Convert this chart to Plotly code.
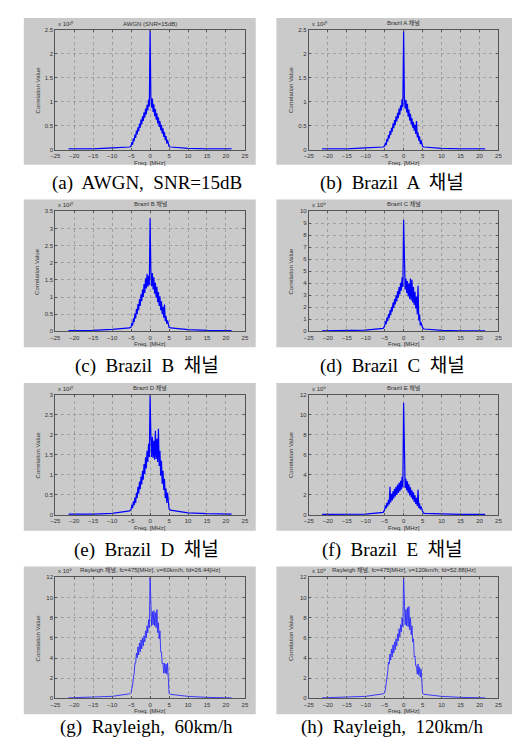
import plotly.graph_objects as go

# ---------------- data ----------------
FREQ_MHZ = [-21.5, -15, -10, -5.4,
            -5.0, -4.8, -4.6, -4.4, -4.2, -4.0, -3.8, -3.6, -3.4, -3.2, -3.0, -2.8, -2.6,
            -2.4, -2.2, -2.0, -1.8, -1.6, -1.4, -1.2, -1.0, -0.8, -0.6, -0.4, -0.2, 0.0,
            0.2, 0.4, 0.6, 0.8, 1.0, 1.2, 1.4, 1.6, 1.8, 2.0, 2.2, 2.4, 2.6, 2.8, 3.0,
            3.2, 3.4, 3.6, 3.8, 4.0, 4.2, 4.4, 4.6, 4.8, 5.0,
            5.4, 10, 15, 21.5]

AWGN_15DB = [0.02, 0.02, 0.04, 0.06,
             0.08, 0.16, 0.11, 0.24, 0.18, 0.32, 0.25, 0.40, 0.32, 0.47, 0.39, 0.55, 0.46,
             0.63, 0.53, 0.70, 0.60, 0.78, 0.67, 0.86, 0.74, 0.94, 0.82, 1.05, 0.90, 2.50,
             1.12, 0.88, 1.07, 0.79, 0.95, 0.70, 0.85, 0.63, 0.76, 0.55, 0.68, 0.48, 0.60, 0.41, 0.52,
             0.34, 0.45, 0.27, 0.37, 0.20, 0.29, 0.13, 0.21, 0.08, 0.07,
             0.06, 0.03, 0.02, 0.02]

BRAZIL_A = [0.02, 0.02, 0.04, 0.06,
            0.08, 0.15, 0.10, 0.23, 0.17, 0.31, 0.24, 0.39, 0.31, 0.46, 0.38, 0.55, 0.45,
            0.62, 0.52, 0.70, 0.59, 0.77, 0.66, 0.86, 0.73, 0.93, 0.82, 1.06, 0.89, 2.50,
            1.10, 0.86, 1.04, 0.78, 0.96, 0.69, 0.84, 0.61, 0.75, 0.53, 0.66, 0.46, 0.58, 0.40, 0.52,
            0.33, 0.60, 0.26, 0.36, 0.19, 0.28, 0.12, 0.20, 0.08, 0.07,
            0.06, 0.03, 0.02, 0.02]

BRAZIL_B = [0.02, 0.03, 0.06, 0.10,
            0.13, 0.25, 0.17, 0.38, 0.27, 0.52, 0.38, 0.66, 0.50, 0.80, 0.62, 0.94, 0.74,
            1.08, 0.88, 1.22, 1.00, 1.38, 1.12, 1.55, 1.25, 1.68, 1.30, 1.62, 1.35, 3.30,
            1.78, 1.32, 1.70, 1.22, 1.58, 1.10, 1.42, 0.98, 1.30, 0.85, 1.15, 0.74, 1.02, 0.62, 0.88,
            0.50, 0.72, 0.40, 0.78, 0.30, 0.45, 0.22, 0.32, 0.15, 0.12,
            0.10, 0.05, 0.03, 0.02]

BRAZIL_C = [0.05, 0.05, 0.10, 0.25,
            0.45, 0.85, 0.60, 1.15, 0.85, 1.45, 1.10, 1.75, 1.35, 2.05, 1.65, 2.40, 1.95,
            2.70, 2.25, 3.00, 2.50, 3.35, 2.80, 3.70, 3.10, 4.05, 3.40, 4.50, 3.70, 9.30,
            4.70, 3.50, 4.40, 3.20, 4.20, 2.90, 4.00, 2.70, 4.40, 2.60, 4.30, 2.40, 3.70, 2.20, 3.30,
            1.90, 2.90, 1.40, 3.80, 0.90, 1.40, 0.50, 0.75, 0.35, 0.30,
            0.20, 0.08, 0.05, 0.05]

BRAZIL_D = [0.02, 0.02, 0.04, 0.10,
            0.14, 0.25, 0.17, 0.34, 0.24, 0.43, 0.30, 0.56, 0.42, 0.70, 0.53, 0.83, 0.64,
            0.96, 0.76, 1.10, 0.88, 1.27, 1.02, 1.44, 1.16, 1.60, 1.32, 1.78, 1.45, 3.00,
            2.00, 1.45, 1.95, 1.42, 1.85, 1.38, 2.10, 1.40, 1.90, 1.32, 2.15, 1.22, 1.60, 0.98, 1.35,
            0.78, 1.10, 0.62, 0.90, 0.42, 0.66, 0.30, 0.55, 0.20, 0.15,
            0.12, 0.05, 0.03, 0.02]

BRAZIL_E = [0.05, 0.05, 0.08, 0.25,
            0.50, 0.95, 0.65, 1.20, 0.85, 1.50, 1.05, 2.80, 1.25, 2.10, 1.45, 2.35, 1.65,
            2.60, 1.85, 2.80, 2.00, 3.00, 2.20, 3.20, 2.35, 3.40, 2.55, 3.80, 2.75, 11.20,
            4.30, 2.70, 3.60, 2.45, 3.35, 2.20, 3.05, 1.95, 2.75, 1.75, 2.45, 1.55, 2.25, 1.30, 1.95,
            1.10, 1.70, 0.90, 2.50, 0.70, 1.15, 0.55, 0.85, 0.40, 0.35,
            0.15, 0.08, 0.05, 0.05]

RAYLEIGH_60 = [0.05, 0.10, 0.20, 0.45,
               0.60, 1.00, 1.30, 2.10, 2.40, 3.50, 3.50, 4.50, 4.00, 5.10, 4.30, 5.50, 4.60,
               5.80, 4.90, 6.00, 5.20, 6.20, 5.60, 6.70, 6.00, 7.20, 6.50, 7.80, 7.00, 12.00,
               10.00, 7.20, 8.60, 7.30, 8.70, 7.20, 8.50, 7.00, 8.80, 6.50, 7.50, 5.90, 6.70, 4.60, 4.60,
               3.40, 3.50, 2.50, 3.50, 2.50, 3.40, 2.40, 3.50, 1.50, 0.50,
               0.40, 0.20, 0.10, 0.05]

RAYLEIGH_120 = [0.05, 0.10, 0.20, 0.45,
                0.55, 0.90, 1.40, 2.20, 2.60, 3.60, 3.40, 4.40, 3.80, 4.90, 4.10, 5.30, 4.50,
                5.60, 4.80, 5.90, 5.20, 6.40, 5.70, 6.90, 6.10, 7.30, 6.60, 8.00, 7.10, 12.00,
                10.30, 7.30, 8.80, 7.20, 9.00, 7.10, 9.10, 6.80, 8.00, 6.30, 7.20, 5.60, 5.90, 4.10, 4.20,
                3.20, 3.20, 2.40, 3.40, 2.30, 3.10, 2.10, 2.90, 1.20, 0.50,
                0.40, 0.20, 0.10, 0.05]

SERIES = [AWGN_15DB, BRAZIL_A, BRAZIL_B, BRAZIL_C, BRAZIL_D, BRAZIL_E, RAYLEIGH_60, RAYLEIGH_120]

PANEL_TITLES = ["AWGN (SNR=15dB)", "Brazil A 채널", "Brazil B 채널", "Brazil C 채널",
                "Brazil D 채널", "Brazil E 채널",
                "Rayleigh 채널, fc=475[MHz], v=60km/h, fd=26.44[Hz]",
                "Rayleigh 채널, fc=475[MHz], v=120km/h, fd=52.88[Hz]"]
CAPTIONS = ["(a)  AWGN,  SNR=15dB", "(b)  Brazil  A  채널", "(c)  Brazil  B  채널",
            "(d)  Brazil  C  채널", "(e)  Brazil  D  채널", "(f)  Brazil  E  채널",
            "(g)  Rayleigh,  60km/h", "(h)  Rayleigh,  120km/h"]
Y_MAX = [2.5, 2.5, 3.5, 10, 3, 12, 12, 12]
Y_STEP = [0.5, 0.5, 0.5, 1, 0.5, 2, 2, 2]
EXPONENT = ["x 10¹⁰", "x 10¹⁰", "x 10¹⁰", "x 10⁹", "x 10¹⁰", "x 10⁹", "x 10⁹", "x 10⁹"]
X_TICKS = [-25, -20, -15, -10, -5, 0, 5, 10, 15, 20, 25]

# ---------------- layout geometry (pixels) ----------------
W, H = 520, 739
COL_X = [(43, 236), (301, 494)]
ROW_Y = [(19, 140), (202, 323), (387, 508), (571, 693)]
PANEL_X = [(11, 247), (268, 509)]
PANEL_Y = [(7, 155), (190, 339), (375, 524), (560, 709)]
CAPTION_Y = [173, 358, 543, 722]
CAPTION_XC = [136, 386]


def px(x):
    return x / W


def py(y):
    return 1 - y / H


SMALL_FONT = "Liberation Sans, Noto Sans CJK KR, sans-serif"
CAP_FONT = "Liberation Serif, Noto Sans CJK KR, serif"

fig = go.Figure()
shapes, annotations = [], []
layout_axes = {}

for i, vals in enumerate(SERIES):
    r, c = divmod(i, 2)
    n = i + 1
    xs = "" if n == 1 else str(n)
    x0, x1 = COL_X[c]
    y0, y1 = ROW_Y[r]
    lc = "#0000ff" if i < 6 else "#2a2aff"
    lw = 1.2 if i < 6 else 0.9
    fig.add_trace(go.Scatter(x=FREQ_MHZ, y=vals, mode="lines",
                             line=dict(color=lc, width=lw),
                             xaxis="x" + xs, yaxis="y" + xs,
                             showlegend=False, hoverinfo="skip"))
    ticks = []
    v = 0.0
    while v <= Y_MAX[i] + 1e-9:
        ticks.append(round(v, 2))
        v += Y_STEP[i]
    common = dict(showline=True, mirror="ticks", linecolor="#555", linewidth=1,
                  ticks="inside", ticklen=2, tickcolor="#555",
                  showgrid=True, gridcolor="#a0a0a0", griddash="dot", gridwidth=1,
                  zeroline=False, tickfont=dict(family=SMALL_FONT, size=6, color="#333"),
                  fixedrange=True)
    layout_axes["xaxis" + xs] = dict(domain=[px(x0), px(x1)], anchor="y" + xs,
                                     range=[-25, 25], tickvals=X_TICKS, **common)
    layout_axes["yaxis" + xs] = dict(domain=[py(y1), py(y0)], anchor="x" + xs,
                                     range=[0, Y_MAX[i]], tickvals=ticks, **common)
    # grey panel background
    pxa, pxb = PANEL_X[c]
    pya, pyb = PANEL_Y[r]
    shapes.append(dict(type="rect", xref="paper", yref="paper", layer="below",
                       x0=px(pxa), x1=px(pxb), y0=py(pyb), y1=py(pya),
                       fillcolor="#cacaca", line=dict(width=0)))
    # panel title
    annotations.append(dict(xref="paper", yref="paper", x=px((x0 + x1) / 2), y=py(y0 - 1),
                            xanchor="center", yanchor="bottom", showarrow=False,
                            text=PANEL_TITLES[i],
                            font=dict(family=SMALL_FONT, size=6, color="#333")))
    # exponent
    annotations.append(dict(xref="paper", yref="paper", x=px(x0 + 1), y=py(y0 - 1),
                            xanchor="left", yanchor="bottom", showarrow=False,
                            text=EXPONENT[i],
                            font=dict(family=SMALL_FONT, size=6, color="#333")))
    # axis titles
    annotations.append(dict(xref="paper", yref="paper", x=px((x0 + x1) / 2), y=py(y1 + 8),
                            xanchor="center", yanchor="top", showarrow=False,
                            text="Freq. [MHz]",
                            font=dict(family=SMALL_FONT, size=6, color="#333")))
    annotations.append(dict(xref="paper", yref="paper", x=px(x0 - 18), y=py((y0 + y1) / 2),
                            xanchor="center", yanchor="middle", showarrow=False,
                            textangle=-90, text="Correlation Value",
                            font=dict(family=SMALL_FONT, size=6, color="#333")))
    # caption
    annotations.append(dict(xref="paper", yref="paper", x=px(CAPTION_XC[c]), y=py(CAPTION_Y[r]),
                            xanchor="center", yanchor="middle", showarrow=False,
                            text=CAPTIONS[i], borderpad=0,
                            font=dict(family=CAP_FONT, size=19, color="#000")))

fig.update_layout(width=W, height=H, margin=dict(l=0, r=0, t=0, b=0),
                  paper_bgcolor="white", plot_bgcolor="white",
                  shapes=shapes, annotations=annotations, **layout_axes)

fig.write_html("out.html", config={"displayModeBar": False})
